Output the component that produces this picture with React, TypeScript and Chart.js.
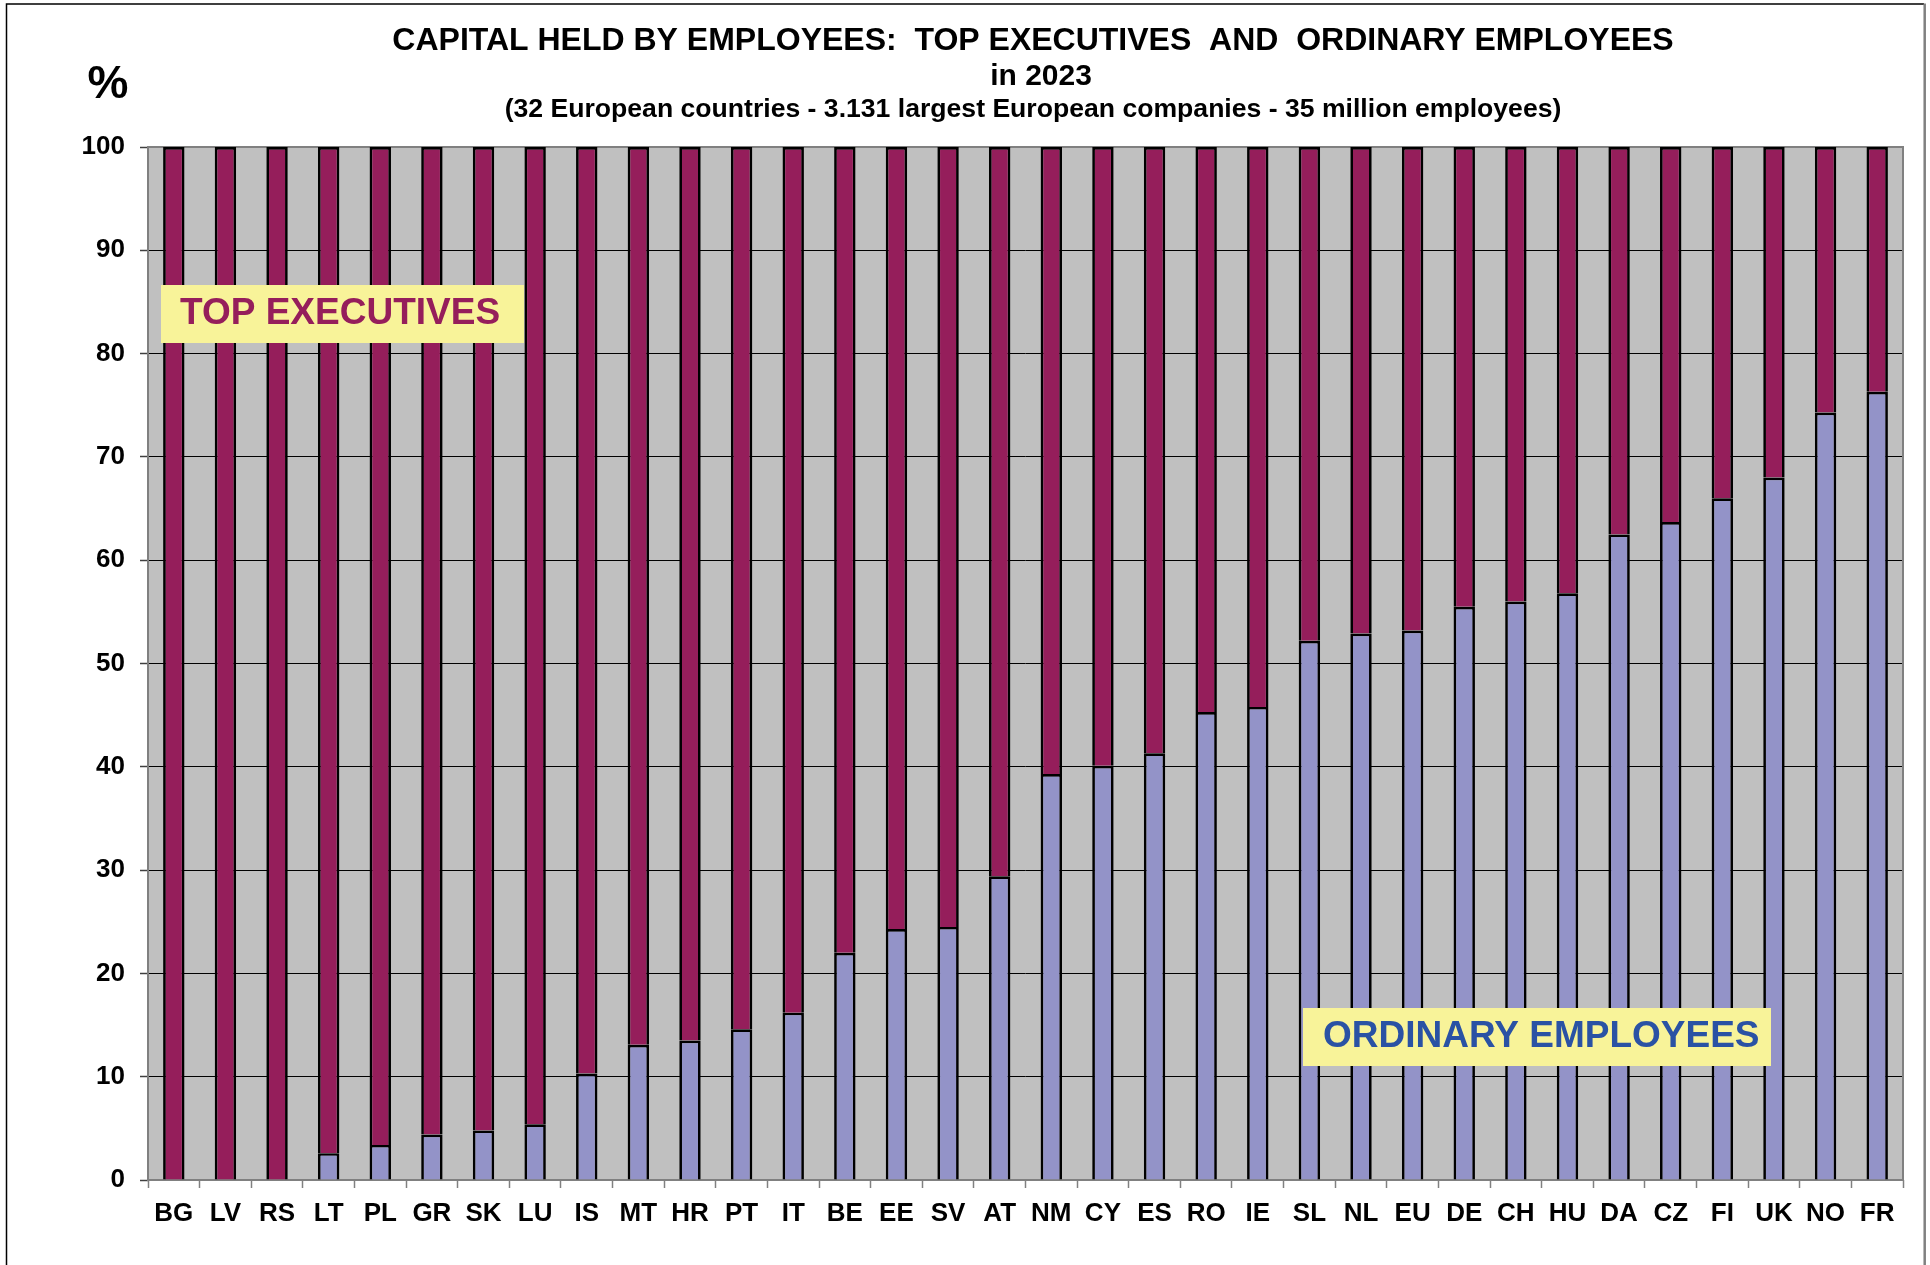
import React, { useEffect, useRef } from "react";
import { Chart, registerables } from "chart.js";

Chart.register(...registerables);

// ---------- data ----------
const CATEGORIES = [
  "BG", "LV", "RS", "LT", "PL", "GR", "SK", "LU", "IS", "MT",
  "HR", "PT", "IT", "BE", "EE", "SV", "AT", "NM", "CY", "ES",
  "RO", "IE", "SL", "NL", "EU", "DE", "CH", "HU", "DA", "CZ",
  "FI", "UK", "NO", "FR",
];

const ORDINARY_EMPLOYEES = [
  0, 0, 0, 2.6, 3.4, 4.4, 4.8, 5.4, 10.3, 13.1,
  13.5, 14.6, 16.2, 22.0, 24.3, 24.5, 29.4, 39.3, 40.1, 41.3,
  45.3, 45.8, 52.2, 52.9, 53.2, 55.5, 56.0, 56.8, 62.5, 63.7,
  66.0, 68.0, 74.3, 76.3,
];

const TOP_EXECUTIVES = [
  100, 100, 100, 97.4, 96.6, 95.6, 95.2, 94.6, 89.7, 86.9,
  86.5, 85.4, 83.8, 78.0, 75.7, 75.5, 70.6, 60.7, 59.9, 58.7,
  54.7, 54.2, 47.8, 47.1, 46.8, 44.5, 44.0, 43.2, 37.5, 36.3,
  34.0, 32.0, 25.7, 23.7,
];

const Y_MIN = 0;
const Y_MAX = 100;
const Y_STEP = 10;

const TITLE_LINE_1 = "CAPITAL HELD BY EMPLOYEES:  TOP EXECUTIVES  AND  ORDINARY EMPLOYEES";
const TITLE_LINE_2 = "in 2023";
const SUBTITLE = "(32 European countries - 3.131 largest European companies - 35 million employees)";
const UNIT_LABEL = "%";
const LABEL_TOP = "TOP EXECUTIVES";
const LABEL_ORDINARY = "ORDINARY EMPLOYEES";

// ---------- styles ----------
const FONT = "'Liberation Sans', Arial, Helvetica, sans-serif";
const MAROON = "#951E5B";
const LAVENDER = "#9393C8";
const PLOT_BG = "#C0C0C0";
const YELLOW = "#F8F399";
const BLUE_TEXT = "#2A52A4";

const decorPlugin = {
  id: "decor",
  beforeDraw(chart: any) {
    const { ctx, chartArea: a, width, height } = chart;
    ctx.save();
    ctx.fillStyle = "#ffffff";
    ctx.fillRect(0, 0, width, height);
    ctx.fillStyle = PLOT_BG;
    ctx.fillRect(a.left, a.top, a.right - a.left, a.bottom - a.top);
    ctx.restore();
  },
  beforeDatasetsDraw(chart: any) {
    const { ctx, chartArea: a } = chart;
    ctx.save();
    ctx.strokeStyle = "#808080";
    ctx.lineWidth = 2;
    ctx.strokeRect(a.left, a.top, a.right - a.left, a.bottom - a.top);
    ctx.restore();
  },
  afterDraw(chart: any) {
    const { ctx } = chart;
    ctx.save();
    // titles
    ctx.fillStyle = "#000";
    ctx.textAlign = "center";
    ctx.textBaseline = "middle";
    ctx.font = `bold 32px ${FONT}`;
    ctx.fillText(TITLE_LINE_1, 1033, 41);
    ctx.font = `bold 30px ${FONT}`;
    ctx.fillText(TITLE_LINE_2, 1041, 77);
    ctx.font = `bold 26.6px ${FONT}`;
    ctx.fillText(SUBTITLE, 1033, 110);
    ctx.font = `bold 46px ${FONT}`;
    ctx.fillText(UNIT_LABEL, 108, 85);

    // label boxes
    ctx.textAlign = "left";
    ctx.fillStyle = YELLOW;
    ctx.fillRect(161, 285, 363, 58);
    ctx.fillStyle = MAROON;
    ctx.font = `bold 37px ${FONT}`;
    ctx.fillText(LABEL_TOP, 180, 314);

    ctx.fillStyle = YELLOW;
    ctx.fillRect(1303, 1008, 468, 58);
    ctx.fillStyle = BLUE_TEXT;
    ctx.fillText(LABEL_ORDINARY, 1323, 1037);

    // outer frame
    ctx.strokeStyle = "#000";
    ctx.lineWidth = 1.5;
    ctx.beginPath();
    ctx.moveTo(6.5, 1265);
    ctx.lineTo(6.5, 4);
    ctx.lineTo(1924, 4);
    ctx.stroke();
    ctx.strokeStyle = "#808080";
    ctx.lineWidth = 2.5;
    ctx.beginPath();
    ctx.moveTo(1924.7, 3.5);
    ctx.lineTo(1924.7, 1265);
    ctx.stroke();
    ctx.restore();
  },
};

export default function App() {
  const ref = useRef<HTMLCanvasElement>(null);

  useEffect(() => {
    const canvas = ref.current;
    if (!canvas) return;
    const chart = new Chart(canvas, {
      type: "bar",
      data: {
        labels: CATEGORIES,
        datasets: [
          {
            label: LABEL_ORDINARY,
            data: ORDINARY_EMPLOYEES,
            backgroundColor: LAVENDER,
            borderColor: "#000",
            borderWidth: 2.7,
            borderSkipped: "start",
            categoryPercentage: 1,
            barPercentage: 0.415,
          },
          {
            label: LABEL_TOP,
            data: TOP_EXECUTIVES,
            backgroundColor: MAROON,
            borderColor: "#000",
            borderWidth: 2.7,
            borderSkipped: "start",
            categoryPercentage: 1,
            barPercentage: 0.415,
          },
        ],
      },
      options: {
        animation: false,
        responsive: false,
        devicePixelRatio: 1,
        layout: { padding: { left: 0, top: 147, right: 27, bottom: 0 } },
        plugins: {
          legend: { display: false },
          tooltip: { enabled: false },
          title: { display: false },
        },
        scales: {
          x: {
            stacked: true,
            offset: true,
            border: { display: false },
            grid: {
              display: true,
              offset: true,
              drawOnChartArea: false,
              drawTicks: true,
              tickLength: 8,
              tickColor: "#808080",
              tickWidth: 1.5,
            },
            ticks: {
              autoSkip: false,
              maxRotation: 0,
              minRotation: 0,
              padding: 10,
              color: "#000",
              font: { family: FONT, size: 26, weight: "bold" },
            },
            afterFit(scale: any) {
              scale.height = 85;
            },
          },
          y: {
            stacked: true,
            min: Y_MIN,
            max: Y_MAX,
            border: { display: false },
            grid: {
              color: "#000",
              lineWidth: 1,
              drawTicks: true,
              tickLength: 8,
              tickColor: "#404040",
              tickWidth: 1.5,
            },
            ticks: {
              stepSize: Y_STEP,
              padding: 15,
              color: "#000",
              font: { family: FONT, size: 26, weight: "bold" },
            },
            afterFit(scale: any) {
              scale.width = 148;
            },
          },
        },
      },
      plugins: [decorPlugin],
    });
    return () => chart.destroy();
  }, []);

  return (
    <div
      style={{
        position: "absolute",
        left: 0,
        top: 0,
        width: 1930,
        height: 1265,
        background: "#fff",
        overflow: "hidden",
      }}
    >
      <canvas
        ref={ref}
        width={1930}
        height={1265}
        style={{ display: "block", width: 1930, height: 1265 }}
      />
    </div>
  );
}
